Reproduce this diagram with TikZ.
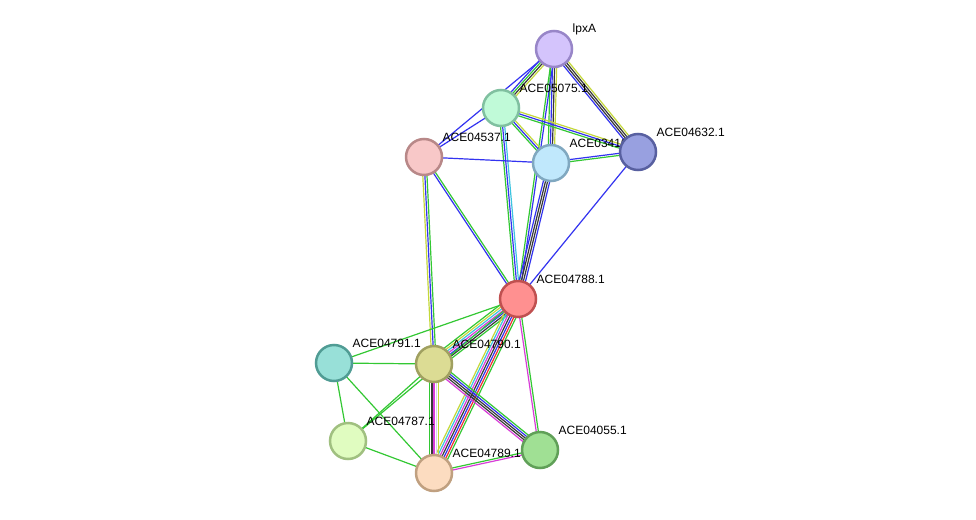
\documentclass[tikz,border=0pt]{standalone}
\usepackage{fontspec}
\setmainfont{Liberation Sans}
\usetikzlibrary{calc,backgrounds}
\definecolor{sgreen}{HTML}{33C833}
\definecolor{sblue}{HTML}{3333F0}
\definecolor{sdark}{HTML}{383838}
\definecolor{slime}{HTML}{C4D83A}
\definecolor{scyan}{HTML}{3CC4E0}
\definecolor{smag}{HTML}{D83CD8}
\definecolor{sred}{HTML}{F03030}
\definecolor{slav}{HTML}{D8D0F0}
\tikzset{
  prot/.style={circle, minimum size=36pt, inner sep=0pt, line width=2.5pt},
  lbl/.style={anchor=base west, inner sep=0pt, font=\fontsize{12}{12}\selectfont},
  ln/.style={line width=1.2pt}
}
\newcommand{\medge}[3]{%
  \foreach \cc [count=\ii] in {#3} {\xdef\nn{\ii}}%
  \foreach \cc [count=\ii] in {#3} {%
    \pgfmathsetmacro\off{(\ii-(\nn+1)/2)*2.1}%
    \draw[ln,\cc] ($(#1.center)!\off pt!90:(#2.center)$) -- ($(#2.center)!\off pt!-90:(#1.center)$);
  }%
}
\begin{document}
\begin{tikzpicture}[x=1pt,y=-1pt]
\useasboundingbox (0,0) rectangle (976,519);
% nodes and labels
\node[prot, fill={rgb,255:red,212;green,196;blue,252}, draw={rgb,255:red,152;green,134;blue,200}] (lpxA) at (554,49) {};
\node[lbl] (tlpxA) at ($(lpxA)+(18.5,-16)$) {lpxA};
\node[prot, fill={rgb,255:red,192;green,250;blue,216}, draw={rgb,255:red,128;green,192;blue,160}] (a05075) at (501,108) {};
\node[lbl] (t05075) at ($(a05075)+(18.5,-16)$) {ACE05075.1};
\node[prot, fill={rgb,255:red,248;green,200;blue,200}, draw={rgb,255:red,184;green,136;blue,136}] (a04537) at (424,157) {};
\node[lbl] (t04537) at ($(a04537)+(18.5,-16)$) {ACE04537.1};
\node[prot, fill={rgb,255:red,192;green,232;blue,252}, draw={rgb,255:red,128;green,168;blue,192}] (a0341) at (551,163) {};
\node[lbl] (t0341) at ($(a0341)+(18.5,-16)$) {ACE03410.1};
\node[prot, fill={rgb,255:red,152;green,160;blue,224}, draw={rgb,255:red,88;green,96;blue,160}] (a04632) at (638,152) {};
\node[lbl] (t04632) at ($(a04632)+(18.5,-16)$) {ACE04632.1};
\node[prot, fill={rgb,255:red,255;green,144;blue,144}, draw={rgb,255:red,192;green,80;blue,80}] (a04788) at (518,299) {};
\node[lbl] (t04788) at ($(a04788)+(18.5,-16)$) {ACE04788.1};
\node[prot, fill={rgb,255:red,152;green,224;blue,216}, draw={rgb,255:red,80;green,156;blue,148}] (a04791) at (334,363) {};
\node[lbl] (t04791) at ($(a04791)+(18.5,-16)$) {ACE04791.1};
\node[prot, fill={rgb,255:red,220;green,220;blue,148}, draw={rgb,255:red,160;green,160;blue,96}] (a04790) at (434,364) {};
\node[lbl] (t04790) at ($(a04790)+(18.5,-16)$) {ACE04790.1};
\node[prot, fill={rgb,255:red,224;green,252;blue,192}, draw={rgb,255:red,160;green,192;blue,128}] (a04787) at (348,441) {};
\node[lbl] (t04787) at ($(a04787)+(18.5,-16)$) {ACE04787.1};
\node[prot, fill={rgb,255:red,252;green,220;blue,192}, draw={rgb,255:red,192;green,160;blue,128}] (a04789) at (434,473) {};
\node[lbl] (t04789) at ($(a04789)+(18.5,-16)$) {ACE04789.1};
\node[prot, fill={rgb,255:red,160;green,224;blue,148}, draw={rgb,255:red,96;green,160;blue,88}] (a04055) at (540,450) {};
\node[lbl] (t04055) at ($(a04055)+(18.5,-16)$) {ACE04055.1};
% edges
\begin{pgfonlayer}{background}
\fill[white] (0,0) rectangle (976,519);
\medge{lpxA}{a05075}{sblue,sgreen,sdark,slime}
\medge{lpxA}{a04537}{sblue}
\medge{lpxA}{a0341}{sgreen,sblue,sdark,slime}
\medge{lpxA}{a04632}{sblue,sdark,sdark,slime}
\medge{lpxA}{a04788}{sgreen,sblue}
\medge{a05075}{a04537}{sblue}
\medge{a05075}{a0341}{sgreen,sblue,slime}
\medge{a05075}{a04632}{sgreen,sblue,slime}
\medge{a05075}{a04788}{sgreen,sblue,scyan}
\medge{a04537}{a0341}{sblue}
\medge{a04537}{a04788}{sblue,sgreen}
\medge{a04537}{a04790}{slime,sblue,sgreen}
\medge{a0341}{a04632}{sgreen,sblue}
\medge{a0341}{a04788}{sblue,sdark,sdark,sblue}
\medge{a04632}{a04788}{sblue}
\medge{a04788}{a04791}{sgreen}
\medge{a04788}{a04790}{sgreen,slime,scyan,smag,sblue,sdark,sgreen}
\medge{a04788}{a04789}{slime,scyan,smag,sdark,sblue,sred,sgreen}
\medge{a04788}{a04055}{smag,sgreen}
\medge{a04788}{a04787}{sgreen}
\medge{a04791}{a04790}{sgreen}
\medge{a04791}{a04787}{sgreen}
\medge{a04791}{a04789}{sgreen}
\medge{a04790}{a04787}{sgreen}
\medge{a04790}{a04789}{sgreen,sdark,smag,slav,slime}
\medge{a04790}{a04055}{smag,sdark,sdark,sblue,sgreen}
\medge{a04787}{a04789}{sgreen}
\medge{a04789}{a04055}{smag,sgreen}
\end{pgfonlayer}
\end{tikzpicture}
\end{document}
